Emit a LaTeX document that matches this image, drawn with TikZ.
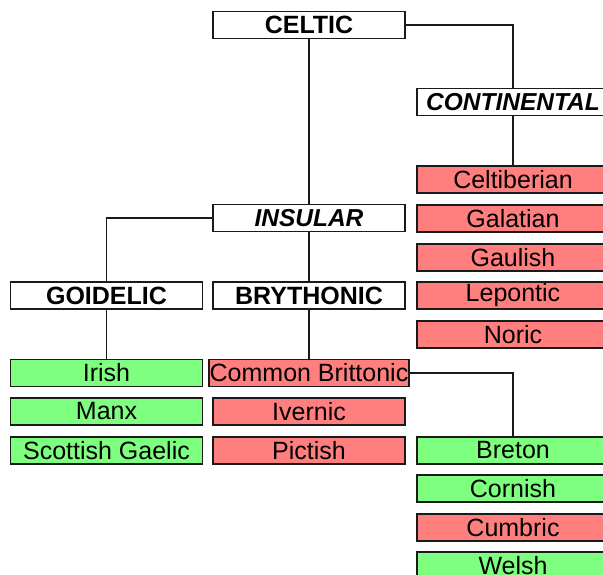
\documentclass[tikz,border=0pt]{standalone}
\usepackage{fontspec}
\setmainfont{Liberation Sans}
\definecolor{dead}{HTML}{FF7F7F}
\definecolor{alive}{HTML}{7FFF7F}
\definecolor{edge}{HTML}{1A1A1A}
\begin{document}
\begin{tikzpicture}[x=1pt,y=-1pt,
  box/.style={draw=edge,line width=1.9pt,minimum width=192pt,minimum height=27pt,inner sep=1pt,
    font=\fontsize{25}{28}\selectfont,text=black,anchor=center},
  grp/.style={box,fill=white,font=\fontsize{25}{28}\selectfont\bfseries},
  sub/.style={box,fill=white,font=\fontsize{24.5}{28}\selectfont\bfseries\itshape},
  deadbox/.style={box,fill=dead},
  livebox/.style={box,fill=alive},
  link/.style={draw=edge,line width=1.9pt}]
\clip (0,0) rectangle (603,575);
\fill[white] (0,0) rectangle (603,575);
% middle column
\node[grp] (celtic) at (309,25) {CELTIC};
\node[sub] (insular) at (309,218) {INSULAR};
\node[grp] (brythonic) at (309,295.5) {BRYTHONIC};
\node[deadbox] (cb) at (309,373) {Common Brittonic};
\node[deadbox] (ivernic) at (309,411.5) {Ivernic};
\node[deadbox] (pictish) at (309,450.5) {Pictish};
% left column
\node[grp] (goidelic) at (106.5,295.5) {GOIDELIC};
\node[livebox] (irish) at (106.5,373) {Irish};
\node[livebox] (manx) at (106.5,411.5) {Manx};
\node[livebox] (scottish) at (106.5,450.5) {Scottish Gaelic};
% right column
\node[sub] (continental) at (513,102) {CONTINENTAL};
\node[deadbox] (celtiberian) at (513,179.5) {Celtiberian};
\node[deadbox] (galatian) at (513,218.5) {Galatian};
\node[deadbox] (gaulish) at (513,257.5) {Gaulish};
\node[deadbox] (lepontic) at (513,295.5) {Lepontic};
\node[deadbox] (noric) at (513,334.5) {Noric};
\node[livebox] (breton) at (513,450.5) {Breton};
\node[livebox] (cornish) at (513,488.5) {Cornish};
\node[deadbox] (cumbric) at (513,527.5) {Cumbric};
\node[livebox] (welsh) at (513,565.5) {Welsh};
% connectors
\draw[link] (celtic.east) -| (continental.north);
\draw[link] (celtic.south) -- (insular.north);
\draw[link] (insular.west) -| (goidelic.north);
\draw[link] (insular.south) -- (brythonic.north);
\draw[link] (goidelic.south) -- (irish.north);
\draw[link] (brythonic.south) -- (cb.north);
\draw[link] (continental.south) -- (celtiberian.north);
\draw[link] (cb.east) -| (breton.north);
\end{tikzpicture}
\end{document}
